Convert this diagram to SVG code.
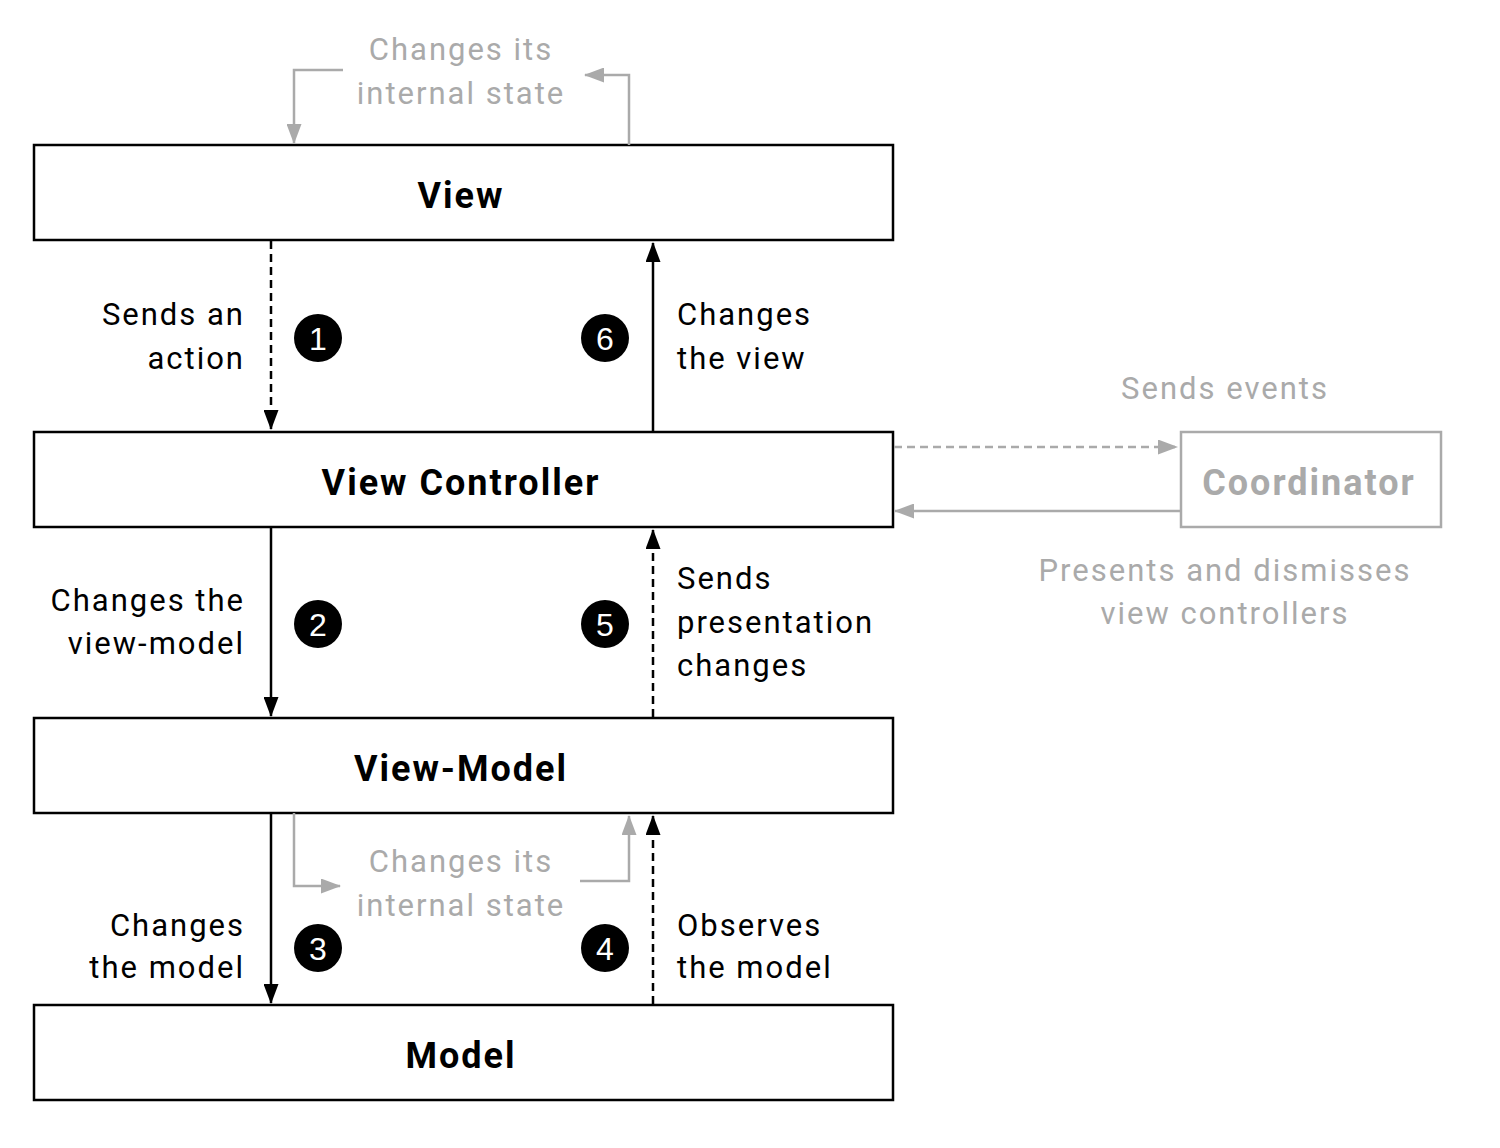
<svg xmlns="http://www.w3.org/2000/svg" width="1500" height="1148" viewBox="0 0 1500 1148">
<style>
.box{fill:#fff;stroke:#000;stroke-width:2.5}
.cbox{fill:#fff;stroke:#aaa;stroke-width:2.5}
.title{font-family:Roboto,"Liberation Sans",sans-serif;font-weight:bold;font-size:36px;text-anchor:middle;fill:#000;letter-spacing:2px}
.lbl{font-family:Roboto,"Liberation Sans",sans-serif;font-size:31px;fill:#000;letter-spacing:2px}
.g{fill:#aaa}
.r{text-anchor:end}
.m{text-anchor:middle}
.ln{fill:none;stroke:#000;stroke-width:2.5}
.gl{fill:none;stroke:#aaa;stroke-width:2.5}
.d{stroke-dasharray:8,5}
.num{font-family:"Liberation Sans",Arial,sans-serif;font-size:32px;fill:#fff;text-anchor:middle}
</style>
<defs>
<marker id="ab" markerWidth="20" markerHeight="15" refX="19" refY="7.5" orient="auto" markerUnits="userSpaceOnUse"><path d="M0,0 L20,7.5 L0,15 z" fill="#000"/></marker>
<marker id="ag" markerWidth="20" markerHeight="15" refX="19" refY="7.5" orient="auto" markerUnits="userSpaceOnUse"><path d="M0,0 L20,7.5 L0,15 z" fill="#aaa"/></marker>
</defs>
<g id="view"><rect class="box" x="34" y="145" width="859" height="95"/><text class="title" x="461" y="208">View</text></g>
<g id="view-controller"><rect class="box" x="34" y="432" width="859" height="95"/><text class="title" x="461" y="495">View Controller</text></g>
<g id="view-model"><rect class="box" x="34" y="718" width="859" height="95"/><text class="title" x="461" y="781">View-Model</text></g>
<g id="model"><rect class="box" x="34" y="1005" width="859" height="95"/><text class="title" x="461" y="1068">Model</text></g>
<g id="coordinator"><rect class="cbox" x="1181" y="432" width="260" height="95"/><text class="title g" x="1309" y="495">Coordinator</text></g>
<g id="connectors">
<line class="ln d" x1="271" y1="241" x2="271" y2="429" marker-end="url(#ab)"/>
<line class="ln" x1="653" y1="431" x2="653" y2="243" marker-end="url(#ab)"/>
<line class="ln" x1="271" y1="527" x2="271" y2="716" marker-end="url(#ab)"/>
<line class="ln d" x1="653" y1="717" x2="653" y2="530" marker-end="url(#ab)"/>
<line class="ln" x1="271" y1="813" x2="271" y2="1003" marker-end="url(#ab)"/>
<line class="ln d" x1="653" y1="1004" x2="653" y2="816" marker-end="url(#ab)"/>
<polyline class="gl" points="343,70 294,70 294,143" marker-end="url(#ag)"/>
<polyline class="gl" points="629,145 629,75 585,75" marker-end="url(#ag)"/>
<polyline class="gl" points="294,813 294,886 340,886" marker-end="url(#ag)"/>
<polyline class="gl" points="580,881 629,881 629,816" marker-end="url(#ag)"/>
<line class="gl d" x1="894" y1="447" x2="1177" y2="447" marker-end="url(#ag)"/>
<line class="gl" x1="1181" y1="511" x2="895" y2="511" marker-end="url(#ag)"/>
</g>
<g id="labels">
<text class="lbl g m" x="461" y="60">Changes its</text>
<text class="lbl g m" x="461" y="104">internal state</text>
<text class="lbl r" x="245" y="325">Sends an</text>
<text class="lbl r" x="245" y="369">action</text>
<text class="lbl" x="677" y="325">Changes</text>
<text class="lbl" x="677" y="369">the view</text>
<text class="lbl g m" x="1225" y="399">Sends events</text>
<text class="lbl r" x="245" y="611">Changes the</text>
<text class="lbl r" x="245" y="654">view-model</text>
<text class="lbl" x="677" y="589">Sends</text>
<text class="lbl" x="677" y="633">presentation</text>
<text class="lbl" x="677" y="676">changes</text>
<text class="lbl g m" x="1225" y="581">Presents and dismisses</text>
<text class="lbl g m" x="1225" y="624">view controllers</text>
<text class="lbl g m" x="461" y="872">Changes its</text>
<text class="lbl g m" x="461" y="916">internal state</text>
<text class="lbl r" x="245" y="936">Changes</text>
<text class="lbl r" x="245" y="978">the model</text>
<text class="lbl" x="677" y="936">Observes</text>
<text class="lbl" x="677" y="978">the model</text>
</g>
<g id="badges">
<circle cx="318" cy="338" r="24"/><text class="num" x="318" y="350">1</text>
<circle cx="605" cy="338" r="24"/><text class="num" x="605" y="350">6</text>
<circle cx="318" cy="624" r="24"/><text class="num" x="318" y="636">2</text>
<circle cx="605" cy="624" r="24"/><text class="num" x="605" y="636">5</text>
<circle cx="318" cy="948" r="24"/><text class="num" x="318" y="960">3</text>
<circle cx="605" cy="948" r="24"/><text class="num" x="605" y="960">4</text>
</g>
</svg>
